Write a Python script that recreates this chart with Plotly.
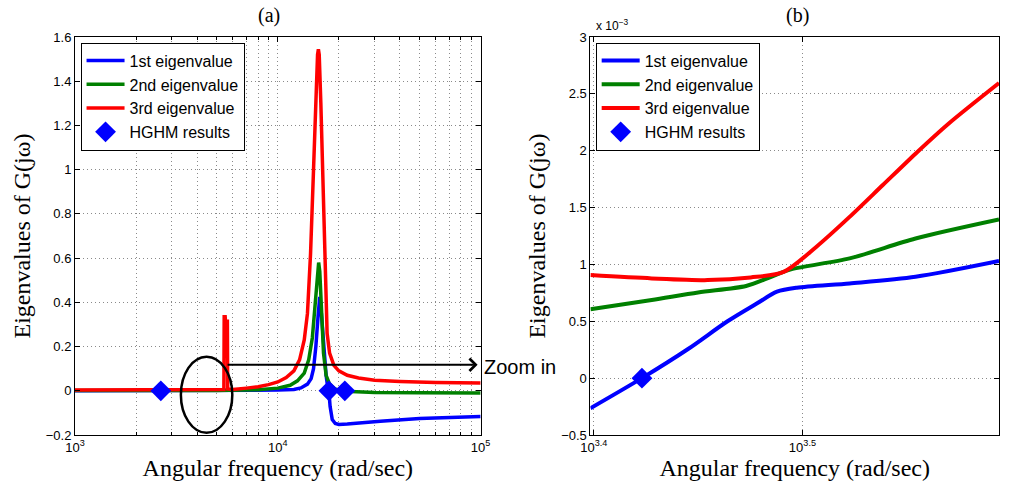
import plotly.graph_objects as go

# ---------------- Panel (a): full frequency range ----------------
freq_red = [1000, 3000, 5000, 5420, 5440, 5500, 5520, 5640, 5660, 6000, 7000, 8000, 9000,
            10000, 11000, 12000, 12800, 13500, 14000, 14500, 15000, 15400, 15700, 15850,
            16000, 16300, 16700, 17100, 17500, 18000, 18900, 20000, 22000, 25000, 30000,
            40000, 60000, 100000]
eig3_a = [0.003, 0.003, 0.004, 0.006, 0.335, 0.335, 0.315, 0.315, 0.008, 0.006, 0.012, 0.018,
          0.028, 0.04, 0.06, 0.09, 0.14, 0.23, 0.35, 0.62, 1.0, 1.33, 1.52, 1.545,
          1.52, 1.3, 0.9, 0.5, 0.26, 0.17, 0.115, 0.09, 0.07, 0.058, 0.048,
          0.042, 0.037, 0.035]

freq_green = [1000, 5000, 8000, 10000, 11500, 12500, 13500, 14200, 14800, 15300, 15700, 15900,
              16100, 16400, 16800, 17300, 18000, 19000, 20000, 21400, 25000, 30000, 50000, 100000]
eig2_a = [0.001, 0.001, 0.005, 0.012, 0.025, 0.045, 0.08, 0.14, 0.24, 0.4, 0.54, 0.58,
          0.54, 0.36, 0.17, 0.07, 0.03, 0.01, 0.002, -0.002, -0.006, -0.008, -0.009, -0.01]

freq_blue = [1000, 5000, 10000, 12000, 13000, 14000, 14600, 15000, 15400, 15800, 16100, 16400,
             16800, 17300, 17600, 17860, 18100, 18550, 19200, 20000, 22000, 25000, 32000,
             50000, 100000]
eig1_a = [0.0, 0.0, 0.003, 0.006, 0.013, 0.03, 0.055, 0.1, 0.2, 0.34, 0.425, 0.35,
          0.2, 0.07, 0.02, 0.0, -0.07, -0.13, -0.148, -0.152, -0.15, -0.145, -0.138,
          -0.125, -0.116]

hghm_freq = [2649, 17860, 21400]
hghm_val = [0.0, 0.0, 0.0]

# ---------------- Panel (b): zoom (values in units of 1e-3) ----------------
logf_red_b = [3.3984, 3.4278, 3.4545, 3.4752, 3.4910, 3.5066, 3.5226, 3.5384, 3.5542, 3.5700, 3.5942]
eig3_b = [0.906, 0.877, 0.862, 0.886, 0.935, 1.154, 1.418, 1.696, 1.974, 2.237, 2.595]

logf_green_b = [3.3984, 3.4278, 3.4500, 3.4730, 3.4850, 3.4945, 3.5226, 3.5542, 3.5942]
eig2_b = [0.605, 0.687, 0.754, 0.81, 0.891, 0.956, 1.053, 1.228, 1.395]

logf_blue_b = [3.3984, 3.4231, 3.4452, 3.4641, 3.4783, 3.4878, 3.4973, 3.5226, 3.5542, 3.5942]
eig1_b = [-0.265, 0.0, 0.256, 0.50, 0.658, 0.76, 0.795, 0.833, 0.891, 1.03]

hghm_logf_b = [3.4231]
hghm_val_b = [0.0]

names = ["1st eigenvalue", "2nd eigenvalue", "3rd eigenvalue", "HGHM results"]
colors = ["#0000ff", "#008000", "#ff0000"]

fig = go.Figure()
LW = 3.5
MARK = dict(symbol="diamond", size=16, color="#0000ff", line=dict(width=0))

# panel (a)
for fx, fy, nm, c in [(freq_blue, eig1_a, names[0], colors[0]),
                      (freq_green, eig2_a, names[1], colors[1]),
                      (freq_red, eig3_a, names[2], colors[2])]:
    fig.add_trace(go.Scatter(x=fx, y=fy, mode="lines", name=nm,
                             line=dict(color=c, width=LW), xaxis="x", yaxis="y",
                             legend="legend"))
fig.add_trace(go.Scatter(x=hghm_freq, y=hghm_val, mode="markers", name=names[3],
                         marker=MARK, xaxis="x", yaxis="y", legend="legend"))

# panel (b)
for fx, fy, nm, c in [(logf_blue_b, eig1_b, names[0], colors[0]),
                      (logf_green_b, eig2_b, names[1], colors[1]),
                      (logf_red_b, eig3_b, names[2], colors[2])]:
    fig.add_trace(go.Scatter(x=[10 ** v for v in fx], y=fy, mode="lines", name=nm,
                             line=dict(color=c, width=4, shape="spline", smoothing=0.8),
                             xaxis="x2", yaxis="y2", legend="legend2"))
fig.add_trace(go.Scatter(x=[10 ** v for v in hghm_logf_b], y=hghm_val_b, mode="markers",
                         name=names[3], marker=MARK,
                         xaxis="x2", yaxis="y2", legend="legend2"))

tickfont = dict(family="Liberation Sans, Arial, sans-serif", size=13, color="black")
titlefont = dict(family="Liberation Serif, Times New Roman, serif", size=24, color="black")
GRIDC = "#8a8a8a"
GDASH = "1px,3px"
grid = dict(showgrid=True, gridcolor=GRIDC, griddash=GDASH, gridwidth=1)
axline = dict(showline=True, linecolor="black", linewidth=1, mirror="allticks",
              ticks="inside", ticklen=5, tickcolor="black", zeroline=False)

minor_a = [2000, 3000, 4000, 5000, 6000, 7000, 8000, 9000,
           20000, 30000, 40000, 50000, 60000, 70000, 80000, 90000]

legend_style = dict(font=dict(family="Liberation Sans, Arial, sans-serif", size=16, color="black"),
                    bgcolor="white", bordercolor="black", borderwidth=1,
                    xanchor="left", yanchor="top", tracegroupgap=0, itemwidth=38)

fig.update_layout(
    width=1009, height=486,
    margin=dict(l=75, r=0, t=37, b=51),
    paper_bgcolor="white", plot_bgcolor="white",
    showlegend=True,
    legend=dict(x=0.006, y=0.986, **legend_style),
    legend2=dict(x=0.5635, y=0.986, **legend_style),
    xaxis=dict(type="log", range=[3, 5], domain=[0, 0.439], anchor="y",
               tickmode="array", tickvals=[1000, 10000, 100000],
               ticktext=["10<sup>3</sup>", "10<sup>4</sup>", "10<sup>5</sup>"],
               tickfont=tickfont,
               minor=dict(tickmode="array", tickvals=minor_a, ticks="inside", ticklen=3,
                          tickcolor="black", showgrid=True, gridcolor=GRIDC,
                          griddash=GDASH, gridwidth=1),
               title=dict(text="Angular frequency (rad/sec)", font=titlefont, standoff=4),
               **grid, **axline),
    yaxis=dict(range=[-0.2, 1.6], domain=[0, 1], anchor="x",
               tickmode="array", tickvals=[-0.2, 0, 0.2, 0.4, 0.6, 0.8, 1, 1.2, 1.4, 1.6],
               ticktext=["\u22120.2", "0", "0.2", "0.4", "0.6", "0.8", "1", "1.2", "1.4", "1.6"],
               tickfont=tickfont,
               title=dict(text="Eigenvalues of G(j\u03c9)", font=titlefont, standoff=8),
               **grid, **axline),
    xaxis2=dict(type="log", range=[3.3984, 3.5942], domain=[0.5578, 1], anchor="y2",
                tickmode="array", tickvals=[10 ** 3.4, 10 ** 3.5],
                ticktext=["10<sup>3.4</sup>", "10<sup>3.5</sup>"],
                tickfont=tickfont,
                title=dict(text="Angular frequency (rad/sec)", font=titlefont, standoff=4),
                **grid, **axline),
    yaxis2=dict(range=[-0.5, 3], domain=[0, 1], anchor="x2",
                tickmode="array", tickvals=[-0.5, 0, 0.5, 1, 1.5, 2, 2.5, 3],
                ticktext=["\u22120.5", "0", "0.5", "1", "1.5", "2", "2.5", "3"],
                tickfont=tickfont,
                title=dict(text="Eigenvalues of G(j\u03c9)", font=titlefont, standoff=8),
                **grid, **axline),
)

# panel titles
serif19 = dict(family="Liberation Serif, Times New Roman, serif", size=20, color="black")
fig.add_annotation(text="(a)", xref="paper", yref="paper", x=0.2099, y=1.055,
                   xanchor="center", yanchor="middle", showarrow=False, font=serif19)
fig.add_annotation(text="(b)", xref="paper", yref="paper", x=0.7816, y=1.055,
                   xanchor="center", yanchor="middle", showarrow=False, font=serif19)
# exponent label on panel (b)
fig.add_annotation(text="x 10<sup>\u22123</sup>", xref="paper", yref="paper",
                   x=0.562, y=1.005, xanchor="left", yanchor="bottom", showarrow=False,
                   font=dict(family="Liberation Sans, Arial, sans-serif", size=12, color="black"))

# zoom-in arrow and ellipse
fig.add_annotation(xref="x", yref="y", axref="x", ayref="y",
                   x=4.985, y=0.118, ax=3.745, ay=0.118, text="",
                   showarrow=True, arrowhead=4, arrowsize=1.2, arrowwidth=2, arrowcolor="black")
fig.add_annotation(text="Zoom in", xref="paper", yref="paper", x=0.441, y=0.171,
                   xanchor="left", yanchor="middle", showarrow=False,
                   font=dict(family="Liberation Sans, Arial, sans-serif", size=20, color="black"))
fig.add_shape(type="circle", xref="x", yref="y", x0=3327, x1=5965, y0=-0.19, y1=0.154,
              line=dict(color="black", width=2.5))

fig.write_html("out.html")
